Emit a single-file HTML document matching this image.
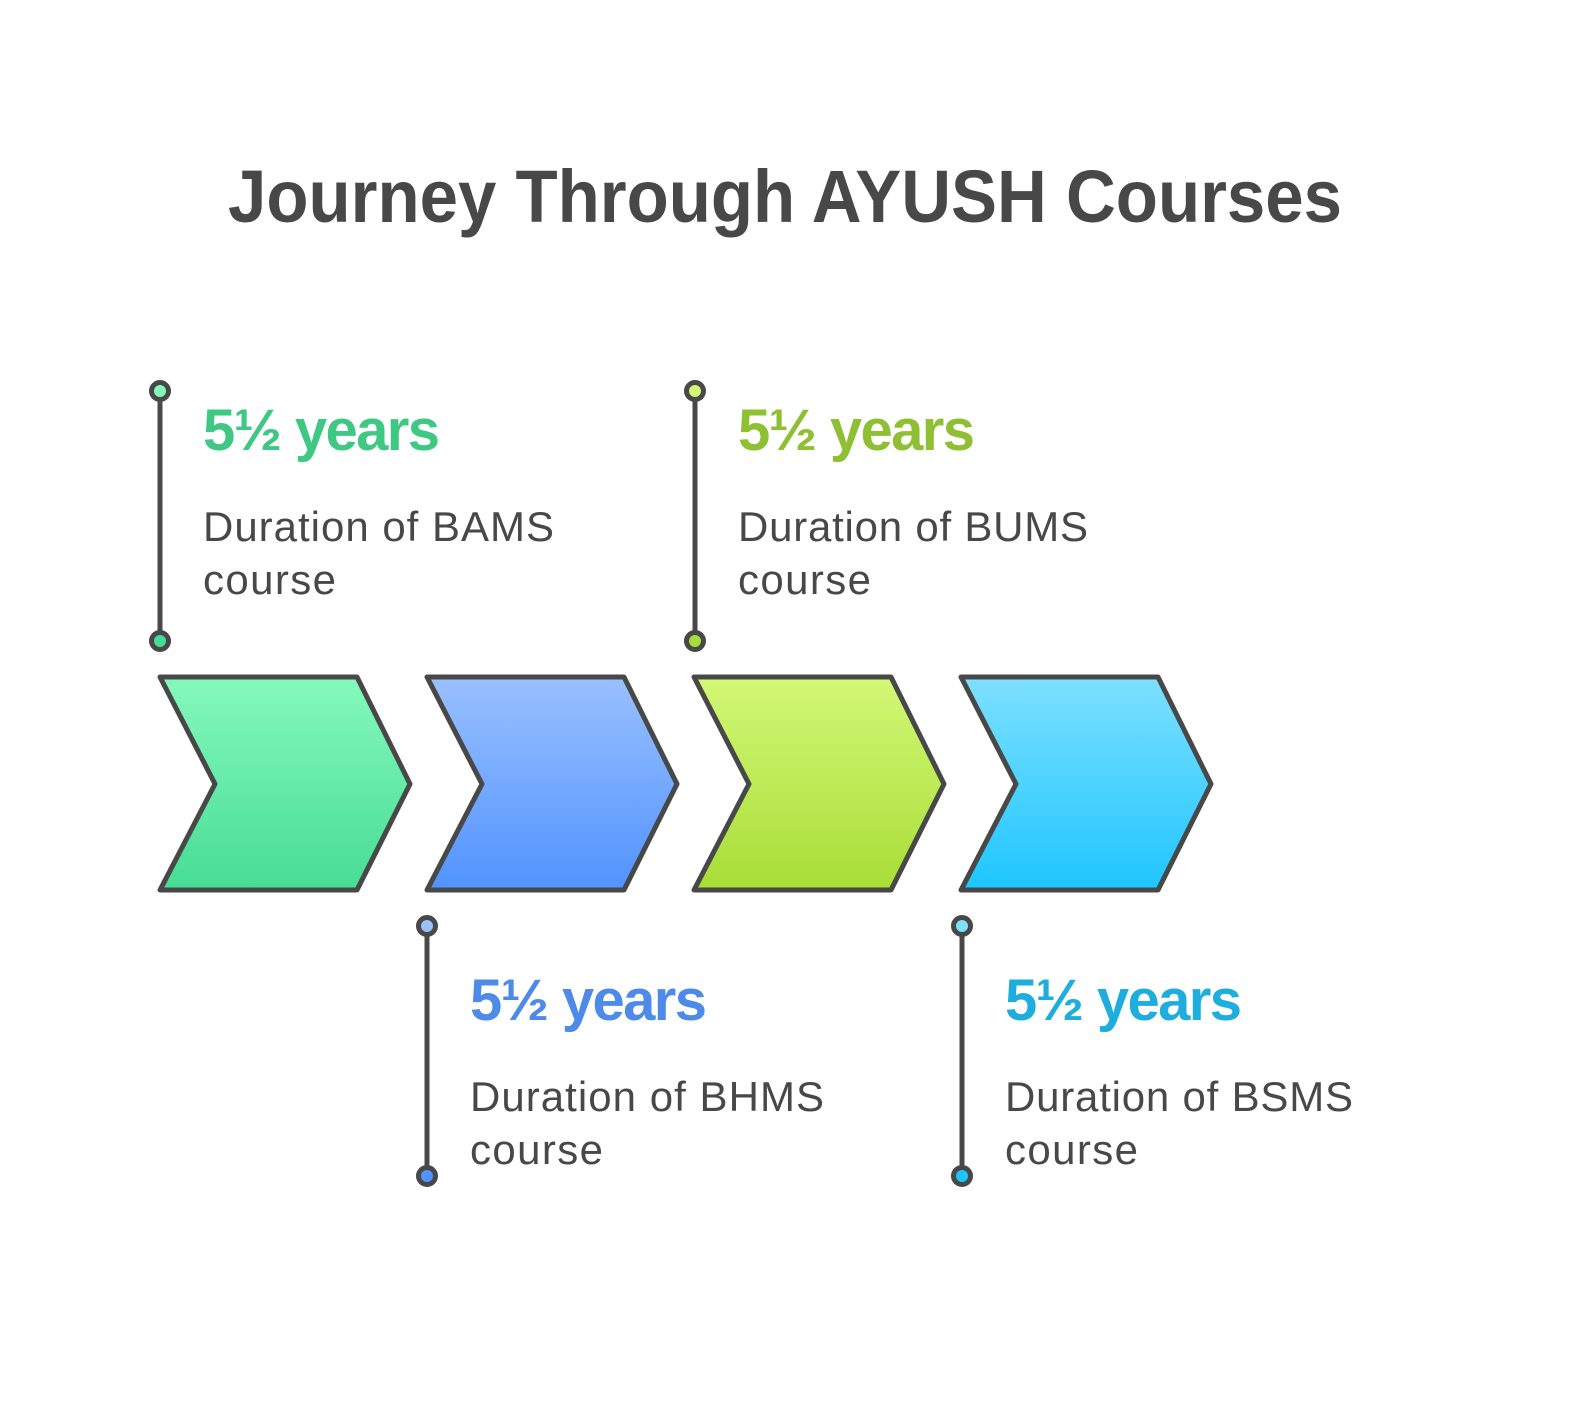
<!DOCTYPE html>
<html><head><style>body{margin:0;background:#fff}</style></head><body>
<svg width="1584" height="1405" viewBox="0 0 1584 1405" xmlns="http://www.w3.org/2000/svg" font-family="Liberation Sans, sans-serif">
<defs>
<linearGradient id="g1" x1="0" y1="0" x2="0" y2="1"><stop offset="0" stop-color="#85f9bb"/><stop offset="1" stop-color="#47dc95"/></linearGradient>
<linearGradient id="g2" x1="0" y1="0" x2="0" y2="1"><stop offset="0" stop-color="#9ac0ff"/><stop offset="1" stop-color="#5193ff"/></linearGradient>
<linearGradient id="g3" x1="0" y1="0" x2="0" y2="1"><stop offset="0" stop-color="#d3f876"/><stop offset="1" stop-color="#a8dd37"/></linearGradient>
<linearGradient id="g4" x1="0" y1="0" x2="0" y2="1"><stop offset="0" stop-color="#7ee0ff"/><stop offset="1" stop-color="#1ec6ff"/></linearGradient>
</defs>
<text x="785" y="222" text-anchor="middle" font-size="74" font-weight="bold" fill="#484848" textLength="1114" lengthAdjust="spacingAndGlyphs">Journey Through AYUSH Courses</text>
<g stroke="#484848" stroke-width="5" stroke-linejoin="round">
<polygon points="160,677 357,677 410,784 357,890 160,890 215,784" fill="url(#g1)"/>
<polygon points="427,677 624,677 677,784 624,890 427,890 482,784" fill="url(#g2)"/>
<polygon points="694,677 891,677 944,784 891,890 694,890 749,784" fill="url(#g3)"/>
<polygon points="961,677 1158,677 1211,784 1158,890 961,890 1016,784" fill="url(#g4)"/>
</g>
<g stroke="#484848" stroke-width="5">
<line x1="160" y1="391" x2="160" y2="641"/><line x1="695" y1="391" x2="695" y2="641"/>
<line x1="427" y1="926" x2="427" y2="1176"/><line x1="962" y1="926" x2="962" y2="1176"/>
<circle cx="160" cy="391" r="8.5" fill="#85f9bb"/><circle cx="160" cy="641" r="8.5" fill="#47dc95"/>
<circle cx="695" cy="391" r="8.5" fill="#d3f876"/><circle cx="695" cy="641" r="8.5" fill="#a8dd37"/>
<circle cx="427" cy="926" r="8.5" fill="#9ac0ff"/><circle cx="427" cy="1176" r="8.5" fill="#5193ff"/>
<circle cx="962" cy="926" r="8.5" fill="#7ee0ff"/><circle cx="962" cy="1176" r="8.5" fill="#1ec6ff"/>
</g>
<g font-size="58" font-weight="bold" lengthAdjust="spacingAndGlyphs">
<text x="203" y="450" fill="#3ec883" textLength="237">5½ years</text>
<text x="738" y="450" fill="#8fbf33" textLength="237">5½ years</text>
<text x="470" y="1020" fill="#4e8ae8" textLength="237">5½ years</text>
<text x="1005" y="1020" fill="#1eaedd" textLength="237">5½ years</text>
</g>
<g font-size="42" fill="#484848" lengthAdjust="spacingAndGlyphs">
<text x="203" y="541" textLength="351">Duration of BAMS</text><text x="203" y="594" textLength="133">course</text>
<text x="738" y="541" textLength="350">Duration of BUMS</text><text x="738" y="594" textLength="133">course</text>
<text x="470" y="1111" textLength="354">Duration of BHMS</text><text x="470" y="1164" textLength="133">course</text>
<text x="1005" y="1111" textLength="348">Duration of BSMS</text><text x="1005" y="1164" textLength="133">course</text>
</g>
</svg>
</body></html>
